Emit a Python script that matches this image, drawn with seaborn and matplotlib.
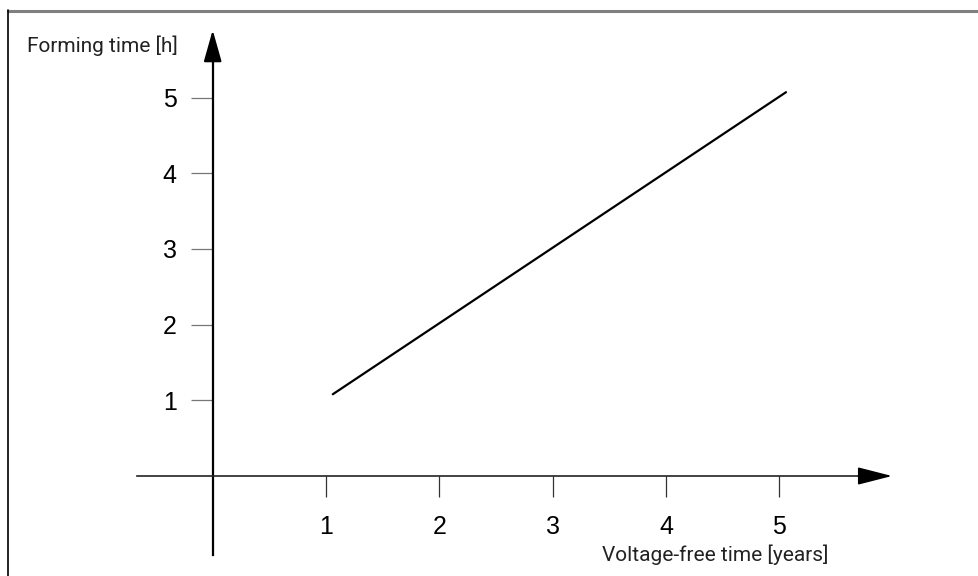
import matplotlib
matplotlib.use("Agg")
import matplotlib.pyplot as plt
import seaborn as sns
import pandas as pd
from matplotlib.lines import Line2D

# data
voltage_free_years = [1.06, 5.06]
forming_time_h = [1.08, 5.07]
x_ticks = [1, 2, 3, 4, 5]
y_ticks = [1, 2, 3, 4, 5]
x_label = "Voltage-free time [years]"
y_label = "Forming time [h]"

sns.set_theme(style="white")
plt.rcParams['font.family'] = ['Liberation Sans', 'DejaVu Sans']

W, H = 979, 576
fig = plt.figure(figsize=(W / 100, H / 100), dpi=100)
ax = fig.add_axes([0, 0, 1, 1])

# pixel mapping: x0=212.7, 113.3 px/unit ; y0=476, 75.7 px/unit
x0, sx = 212.7, 113.3
y0, sy = 476.0, 75.7
ax.set_xlim(-x0 / sx, (W - x0) / sx)
ax.set_ylim((y0 - H) / sy, y0 / sy)

df = pd.DataFrame({"x": voltage_free_years, "y": forming_time_h})
sns.lineplot(data=df, x="x", y="y", ax=ax, color="black", linewidth=1.6)

for s in ["top", "right"]:
    ax.spines[s].set_visible(False)
ax.spines["left"].set_position(("data", 0))
ax.spines["bottom"].set_position(("data", 0))
ax.spines["left"].set_bounds((y0 - 555) / sy, 5.6)
ax.spines["bottom"].set_bounds((137 - x0) / sx, 5.8)
ax.spines["left"].set_color("black")
ax.spines["left"].set_linewidth(1.6)
ax.spines["bottom"].set_color("#222222")
ax.spines["bottom"].set_linewidth(1.2)

ax.set_xticks(x_ticks)
ax.set_yticks(y_ticks)
ax.set_xticklabels([str(v) for v in x_ticks])
ax.set_yticklabels([str(v) for v in y_ticks])
ax.tick_params(axis="x", direction="out", length=15, width=0.9, color="#333333",
               pad=13, labelsize=18, labelcolor="black", bottom=True)
ax.tick_params(axis="y", direction="out", length=16, width=0.9, color="#777777",
               pad=10, labelsize=18, labelcolor="black", left=True)
ax.set_xlabel("")
ax.set_ylabel("")
ax.grid(False)

# arrow heads
ax.annotate("", xy=(0, (y0 - 30) / sy), xytext=(0, 5.5),
            arrowprops=dict(arrowstyle="-|>,head_length=1.95,head_width=0.55",
                            mutation_scale=10, color="black", lw=1.6,
                            shrinkA=0, shrinkB=0))
ax.annotate("", xy=((892 - x0) / sx, 0), xytext=(5.7, 0),
            arrowprops=dict(arrowstyle="-|>,head_length=2.15,head_width=0.55",
                            mutation_scale=10, color="black", lw=1.2,
                            shrinkA=0, shrinkB=0))

lab_font = ['Liberation Sans Narrow', 'Roboto', 'DejaVu Sans']
fig.text(27 / W, 1 - 46 / H, y_label, ha="left", va="center",
         fontsize=15, color="#222222", family=lab_font)
fig.text(715 / W, 1 - 555 / H, x_label, ha="center", va="center",
         fontsize=15, color="#222222", family=lab_font)

# frame lines
fig.add_artist(Line2D([8 / W, 1], [1 - 10.5 / H, 1 - 10.5 / H],
                      color="#808080", lw=2.2, transform=fig.transFigure))
fig.add_artist(Line2D([8 / W, 8 / W], [0, 1 - 10 / H],
                      color="black", lw=1.2, transform=fig.transFigure))

fig.savefig("out.png", dpi=100)
